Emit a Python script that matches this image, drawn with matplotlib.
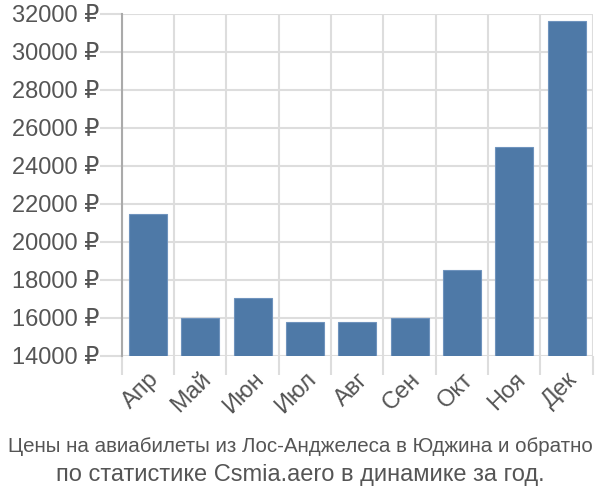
import numpy as np
import matplotlib.pyplot as plt
from matplotlib.ticker import FixedLocator, FuncFormatter

months = ['Апр', 'Май', 'Июн', 'Июл', 'Авг', 'Сен', 'Окт', 'Ноя', 'Дек']
prices = [21450, 16000, 17050, 15800, 15800, 16000, 18530, 25000, 31630]
yticks = [14000, 16000, 18000, 20000, 22000, 24000, 26000, 28000, 30000, 32000]

plt.rcParams['font.family'] = ['Liberation Sans', 'DejaVu Sans']

fig = plt.figure(figsize=(6, 5), dpi=100)
ax = fig.add_axes([0.203, 0.288, 0.785, 0.684])

x = np.arange(len(months))
ax.bar(x, prices, width=0.73, color='#4e79a7', edgecolor='#6f93bd', linewidth=0.8, zorder=3)

ax.set_xlim(-0.5, len(months) - 0.5)
ax.set_ylim(14000, 32000)

ax.set_yticks(yticks)
ax.yaxis.set_major_formatter(FuncFormatter(lambda v, p: f'{int(v)} ₽'))
ax.set_xticks(x)
ax.set_xticklabels(months, rotation=45, ha='right', rotation_mode='anchor')
ax.xaxis.set_minor_locator(FixedLocator(np.arange(-0.5, len(months), 1.0)))

ax.tick_params(axis='y', length=16, color='#dddddd', width=1.5, labelsize=17,
               labelcolor='#555555', pad=0)
ax.tick_params(axis='x', which='major', length=0, labelsize=17, labelcolor='#555555', pad=9)
ax.tick_params(axis='x', which='minor', length=14, color='#dddddd', width=1.5)

ax.grid(axis='y', color='#dddddd', linewidth=1.5, zorder=0)
ax.grid(axis='x', which='minor', color='#dddddd', linewidth=1.5, zorder=0)

for s in ['top', 'right', 'bottom']:
    ax.spines[s].set_visible(False)
ax.spines['left'].set_color('#aaaaaa')
ax.spines['left'].set_linewidth(1.5)
ax.spines['left'].set_bounds(14000, 32000)

fig.text(0.5, 0.106, 'Цены на авиабилеты из Лос-Анджелеса в Юджина и обратно',
         ha='center', va='center', fontsize=14.8, color='#555555')
fig.text(0.5, 0.05, 'по статистике Csmia.aero в динамике за год.',
         ha='center', va='center', fontsize=17, color='#555555')

fig.savefig('out.png', dpi=100)
